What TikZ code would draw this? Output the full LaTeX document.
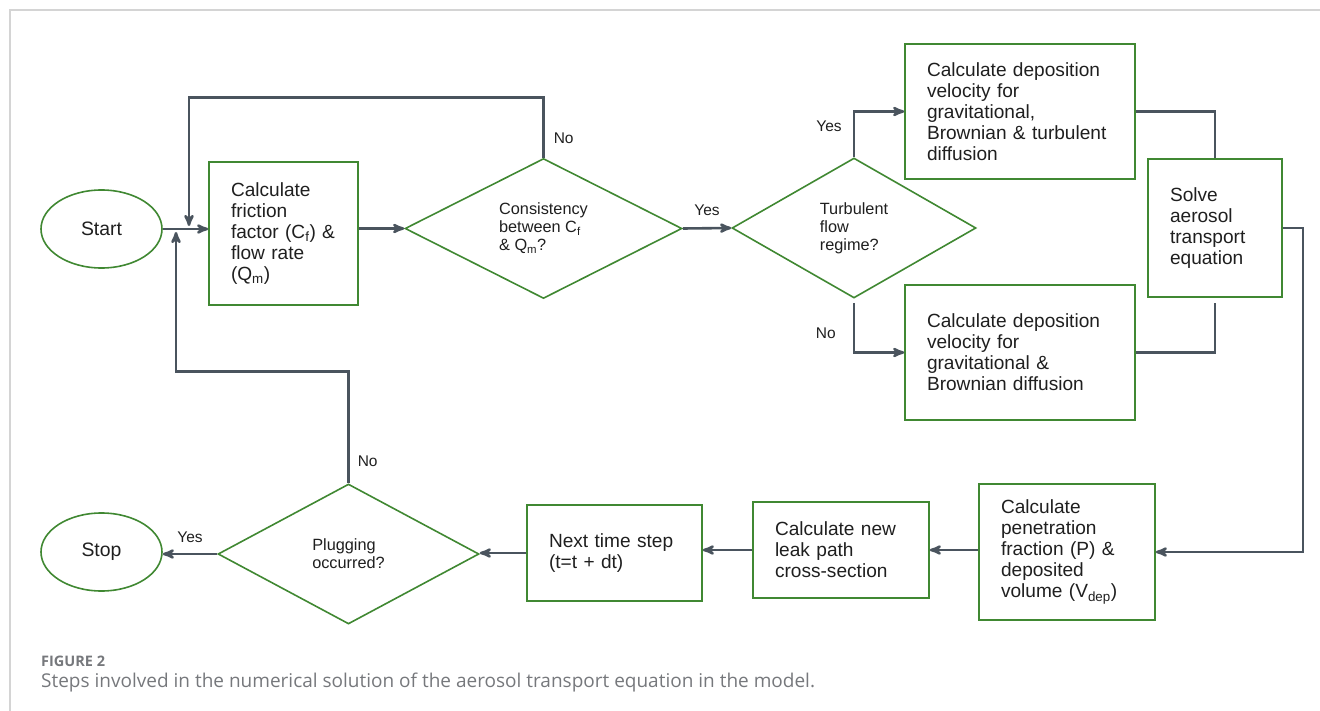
\documentclass[tikz,border=0pt]{standalone}
\usepackage{fontspec}
\setmainfont{Liberation Sans}
\newfontfamily\capfont{Open Sans}
\usetikzlibrary{arrows}
\usetikzlibrary{positioning}
\usetikzlibrary{shapes.geometric}
\usepackage{xcolor}
\definecolor{boxgreen}{RGB}{64,136,50}
\definecolor{linegray}{RGB}{74,84,94}
\definecolor{capgray}{RGB}{118,120,124}
\definecolor{framegray}{RGB}{212,212,212}

\begin{document}
\begin{tikzpicture}[x=1pt, y=-1pt, >=stealth',
    process/.style={rectangle, draw=boxgreen, line width=1.6pt, align=left,
      inner xsep=22pt, inner ysep=0pt, text=black!88, font=\fontsize{19.1}{21}\selectfont},
    decision/.style={diamond, draw=boxgreen, line width=1.6pt, align=left,
      inner sep=0pt, text=black!88, font=\fontsize{16.3}{18}\selectfont},
    terminal/.style={ellipse, draw=boxgreen, line width=1.6pt, minimum width=121pt,
      minimum height=78pt, text=black!88, font=\fontsize{19.4}{21}\selectfont},
    flow/.style={draw=linegray, line width=2.6pt},
    answer/.style={inner sep=1pt, text=black!88, font=\fontsize{15.5}{17}\selectfont}]
  \useasboundingbox (0,0) rectangle (1320,711);
  \draw[framegray, line width=1.4pt] (10,711) -- (10,10) -- (1320,10);

  \node[terminal] (start) at (101.5,229) {Start};
  \node[process, text width=105pt, minimum height=143pt] (fric) at (283.5,233.5)
    {Calculate\\friction\\factor (C\textsubscript{f}) \&\\flow rate\\(Q\textsubscript{m})};
  \node[decision, minimum width=277pt, minimum height=140pt] (cons) at (543.5,228.5)
    {Consistency\\between C\textsubscript{f}\\\& Q\textsubscript{m}?};
  \node[decision, minimum width=244pt, minimum height=140pt] (turb) at (854,228)
    {Turbulent\\flow\\regime?};
  \node[process, text width=186pt, minimum height=135pt] (depA) at (1020,111.5)
    {Calculate deposition\\velocity for\\gravitational,\\Brownian \& turbulent\\diffusion};
  \node[process, text width=186pt, minimum height=135pt] (depB) at (1020,352.5)
    {Calculate deposition\\velocity for\\gravitational \&\\Brownian diffusion};
  \node[process, text width=90pt, minimum height=138pt] (solve) at (1215,228)
    {Solve\\aerosol\\transport\\equation};
  \node[process, text width=132pt, minimum height=136pt] (pen) at (1067,552)
    {Calculate\\penetration\\fraction (P) \&\\deposited\\volume (V\textsubscript{dep})};
  \node[process, text width=132pt, minimum height=96pt] (leak) at (841,550)
    {Calculate new\\leak path\\cross-section};
  \node[process, text width=131pt, minimum height=96pt] (next) at (614.5,553)
    {Next time step\\(t=t + dt)};
  \node[decision, minimum width=261pt, minimum height=140pt] (plug) at (348.5,554)
    {Plugging\\occurred?};
  \node[terminal] (stop) at (101.5,552) {Stop};

  \coordinate (joinA) at (189,229);
  \coordinate (joinB) at (176,229);

  % main line
  \draw[flow,->] (start.east) -- (start.east -| fric.west);
  \draw[flow,->] (cons.west -| fric.east) -- (cons.west);
  \draw[flow,->] (cons.east) -- node[answer, above=10pt] {Yes} (turb.west);
  \draw[flow,->] (turb.north) |- node[answer, pos=0.34, left=10pt] {Yes} (depA.west);
  \draw[flow,->,shorten <=4pt] (turb.south) |- node[answer, pos=0.32, left=16pt] {No} (depB.west);
  \draw[flow] (depA.east) -| (solve.north);
  \draw[flow,shorten >=5pt] (depB.east) -| (solve.south);
  \draw[flow,->] (solve.east) -- ++(20,0) |- (pen.east);
  \draw[flow,->] (leak.east -| pen.west) -- (leak.east);
  \draw[flow,->] (leak.west) -- (leak.west -| next.east);
  \draw[flow,->] (next.west) -- (next.west -| plug.east);
  \draw[flow,->] (plug.west) -- node[answer, above=9pt] {Yes} (plug.west -| stop.east);

  % loops back
  \draw[flow,->,shorten >=3pt] (cons.north) -- node[answer, pos=0.33, right=8pt] {No} ++(0,-60) -| (joinA);
  \draw[flow,->,shorten >=3pt] (plug.north) -- node[answer, pos=0.2, right=7pt] {No} ++(0,-112) -| (joinB);

  % caption
  \node[anchor=base west, inner sep=0pt, text=capgray, font=\capfont\bfseries\fontsize{14.5}{16}\selectfont]
    (figno) at (41,666) {FIGURE 2};
  \node[anchor=base west, inner sep=0pt, text=capgray, font=\capfont\fontsize{19}{22}\selectfont]
    (figcap) at (41,687) {Steps involved in the numerical solution of the aerosol transport equation in the model.};
\end{tikzpicture}
\end{document}
